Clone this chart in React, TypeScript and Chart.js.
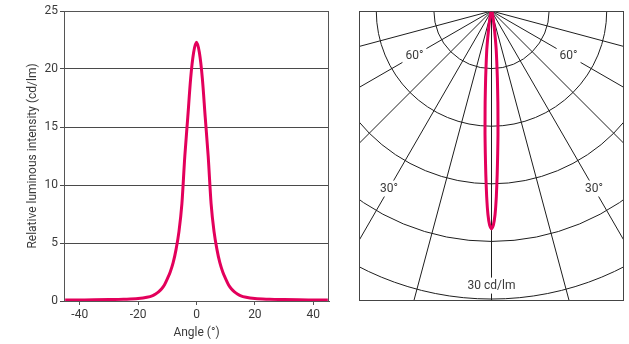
import React, { useEffect, useRef } from "react";
import { Chart, registerables } from "chart.js";

Chart.register(...registerables);

// ---- Cartesian curve ----
const angles = [
  -45, -40, -35, -30, -25, -20, -17, -15, -14, -13, -12, -11, -10, -9, -8, -7, -6, -5, -4, -3, -2, -1,
  0,
  1, 2, 3, 4, 5, 6, 7, 8, 9, 10, 11, 12, 13, 14, 15, 17, 20, 25, 30, 35, 40, 45,
];
const intensity = [
  0.08, 0.09, 0.1, 0.12, 0.15, 0.21, 0.32, 0.47, 0.6, 0.78, 1.03, 1.38, 1.9, 2.5, 3.3, 4.45, 6.0, 8.4, 12.5, 15.8, 19.2, 21.4,
  22.3,
  21.4, 19.2, 15.8, 12.5, 8.4, 6.0, 4.45, 3.3, 2.5, 1.9, 1.38, 1.03, 0.78, 0.6, 0.47, 0.32, 0.21, 0.15, 0.12, 0.1, 0.09, 0.08,
];
const xTicks = [-40, -20, 0, 20, 40];
const yTicks = [0, 5, 10, 15, 20, 25];

// ---- polar curve ----
const polarAngles = [
  -30, -20, -15, -12, -10, -8, -7, -6, -5, -4, -3.5, -3, -2.5, -2, -1.5, -1, -0.5,
  0,
  0.5, 1, 1.5, 2, 2.5, 3, 3.5, 4, 5, 6, 7, 8, 10, 12, 15, 20, 30,
];
const polarIntensity = [
  0.1, 0.25, 0.5, 0.9, 1.5, 2.8, 4.0, 5.2, 7.0, 9.5, 11.0, 12.9, 14.8, 17.0, 19.3, 21.2, 22.3,
  22.7,
  22.3, 21.2, 19.3, 17.0, 14.8, 12.9, 11.0, 9.5, 7.0, 5.2, 4.0, 2.8, 1.5, 0.9, 0.5, 0.25, 0.1,
];

// polar diagram grid
const ringValues = [6, 12, 18, 24, 30];
const radialAngles = [-75, -60, -45, -30, -15, 0, 15, 30, 45, 60, 75];
const angleLabels = [
  { text: "60°", angle: -60, r: 9.27 },
  { text: "60°", angle: 60, r: 9.27 },
  { text: "30°", angle: -30, r: 21.35 },
  { text: "30°", angle: 30, r: 21.35 },
];
const scaleLabel = { text: "30 cd/lm", angle: 0, r: 28.6 };

const RED = "#e3005b";
const TEXT = "#3a3a3a";
const FONT = "Roboto";

const framePlugin = {
  id: "frame",
  beforeDatasetsDraw(chart: any) {
    const { ctx, chartArea } = chart;
    ctx.save();
    ctx.strokeStyle = "#555";
    ctx.lineWidth = 1;
    ctx.strokeRect(
      Math.round(chartArea.left) + 0.5,
      Math.round(chartArea.top) + 0.5,
      Math.round(chartArea.right - chartArea.left) - 1,
      Math.round(chartArea.bottom - chartArea.top)
    );
    ctx.restore();
  },
};

const polarGridPlugin = {
  id: "polarGrid",
  beforeDatasetsDraw(chart: any) {
    const { ctx, chartArea } = chart;
    const xs = chart.scales.x;
    const ys = chart.scales.y;
    const ox = xs.getPixelForValue(0);
    const oy = ys.getPixelForValue(0);
    const ppu = xs.getPixelForValue(1) - ox;
    ctx.save();
    ctx.beginPath();
    ctx.rect(chartArea.left, chartArea.top, chartArea.right - chartArea.left, chartArea.bottom - chartArea.top);
    ctx.clip();
    ctx.strokeStyle = "#1e1e1e";
    ctx.lineWidth = 1;
    ringValues.forEach((v) => {
      ctx.beginPath();
      ctx.arc(ox, oy, v * ppu, 0, Math.PI);
      ctx.stroke();
    });
    radialAngles.forEach((a) => {
      const t = (a * Math.PI) / 180;
      const L = 1000;
      ctx.beginPath();
      ctx.moveTo(ox, oy);
      ctx.lineTo(ox + Math.sin(t) * L, oy + Math.cos(t) * L);
      ctx.stroke();
    });
    ctx.font = `12px ${FONT}`;
    ctx.textAlign = "center";
    ctx.textBaseline = "middle";
    [...angleLabels, scaleLabel].forEach((l) => {
      const t = (l.angle * Math.PI) / 180;
      const px = ox + Math.sin(t) * l.r * ppu;
      const py = oy + Math.cos(t) * l.r * ppu;
      const w = ctx.measureText(l.text).width;
      ctx.fillStyle = "#fff";
      ctx.fillRect(px - w / 2 - 3, py - 8, w + 6, 16);
      ctx.fillStyle = TEXT;
      ctx.fillText(l.text, px, py);
    });
    ctx.restore();
    ctx.save();
    ctx.strokeStyle = "#444";
    ctx.lineWidth = 1;
    ctx.strokeRect(
      Math.round(chartArea.left) + 0.5,
      Math.round(chartArea.top) + 0.5,
      Math.round(chartArea.right - chartArea.left) - 1,
      Math.round(chartArea.bottom - chartArea.top) - 1
    );
    ctx.restore();
  },
};

export default function App() {
  const lineRef = useRef<HTMLCanvasElement>(null);
  const polarRef = useRef<HTMLCanvasElement>(null);

  useEffect(() => {
    const lineChart = new Chart(lineRef.current as HTMLCanvasElement, {
      type: "line",
      data: {
        datasets: [
          {
            data: angles.map((a, i) => ({ x: a, y: intensity[i] })),
            borderColor: RED,
            borderWidth: 3,
            pointRadius: 0,
            cubicInterpolationMode: "monotone",
            fill: false,
          },
        ],
      },
      options: {
        animation: false,
        responsive: false,
        layout: { padding: { top: 11, right: 11, left: 0, bottom: 0 } },
        plugins: { legend: { display: false }, tooltip: { enabled: false } },
        scales: {
          x: {
            type: "linear",
            min: -45.4,
            max: 45.4,
            afterBuildTicks: (s: any) => {
              s.ticks = xTicks.map((v) => ({ value: v }));
            },
            afterFit: (s: any) => {
              s.height = 43;
            },
            grid: { drawOnChartArea: false, drawTicks: true, tickLength: 4, color: "#555", lineWidth: 1 },
            border: { display: true, color: "#555", width: 1 },
            ticks: { padding: 3, color: TEXT, font: { family: FONT, size: 12 }, maxRotation: 0 },
            title: {
              display: true,
              text: "Angle (°)",
              color: TEXT,
              font: { family: FONT, size: 12 },
              padding: { top: 0, bottom: 4 },
            },
          },
          y: {
            type: "linear",
            min: 0,
            max: 25,
            afterBuildTicks: (s: any) => {
              s.ticks = yTicks.map((v) => ({ value: v }));
            },
            afterFit: (s: any) => {
              s.width = 64;
            },
            grid: { drawOnChartArea: true, drawTicks: true, tickLength: 4, color: "#4a4a4a", lineWidth: 1 },
            border: { display: true, color: "#555", width: 1 },
            ticks: { padding: 2, color: TEXT, font: { family: FONT, size: 12 } },
            title: {
              display: true,
              text: "Relative luminous intensity (cd/lm)",
              color: TEXT,
              font: { family: FONT, size: 12 },
              padding: { top: 26, bottom: 0 },
            },
          },
        },
      },
      plugins: [framePlugin],
    } as any);

    const polarChart = new Chart(polarRef.current as HTMLCanvasElement, {
      type: "scatter",
      data: {
        datasets: [
          {
            data: polarAngles.map((a, i) => {
              const t = (a * Math.PI) / 180;
              return { x: polarIntensity[i] * Math.sin(t), y: -polarIntensity[i] * Math.cos(t) };
            }),
            showLine: true,
            borderColor: RED,
            borderWidth: 3,
            pointRadius: 0,
            tension: 0.2,
            fill: false,
          },
        ],
      },
      options: {
        animation: false,
        responsive: false,
        layout: { padding: { top: 11, right: 5, left: 19, bottom: 43 } },
        plugins: { legend: { display: false }, tooltip: { enabled: false } },
        scales: {
          x: { type: "linear", min: -13.8, max: 13.8, display: false },
          y: { type: "linear", min: -30.21, max: 0, display: false },
        },
      },
      plugins: [polarGridPlugin],
    } as any);

    return () => {
      lineChart.destroy();
      polarChart.destroy();
    };
  }, []);

  return (
    <div style={{ position: "fixed", left: 0, top: 0, width: 629, height: 344, background: "#fff" }}>
      <canvas ref={lineRef} width={340} height={344} style={{ position: "absolute", left: 0, top: 0 }} />
      <canvas ref={polarRef} width={289} height={344} style={{ position: "absolute", left: 340, top: 0 }} />
    </div>
  );
}
